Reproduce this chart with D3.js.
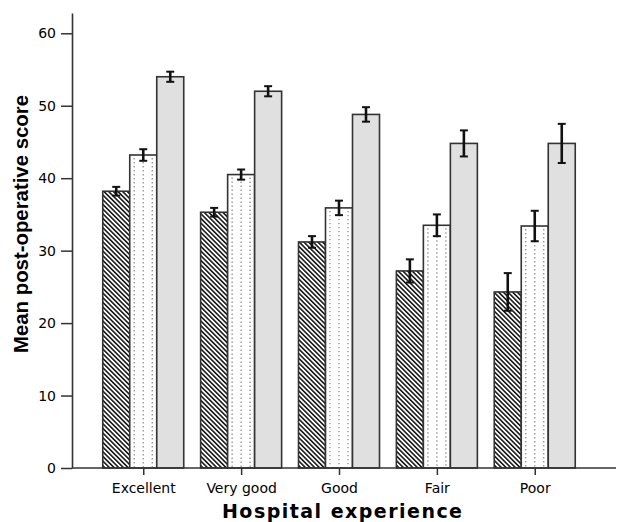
<!DOCTYPE html>
<html>
<head>
<meta charset="utf-8">
<script src="https://cdn.jsdelivr.net/npm/d3@7"></script>
<style>
  body { margin: 0; background: #fff; }
  svg { display: block; }
</style>
</head>
<body>
<svg width="624" height="522"></svg>
<script>
// values
const categories = ['Excellent', 'Very good', 'Good', 'Fair', 'Poor'];
const hatchedMeans = [38.2, 35.3, 31.2, 27.2, 24.3];
const hatchedErr = [0.6, 0.6, 0.8, 1.6, 2.6];
const dottedMeans = [43.2, 40.5, 35.9, 33.5, 33.4];
const dottedErr = [0.8, 0.7, 1.0, 1.5, 2.1];
const greyMeans = [54.0, 52.0, 48.8, 44.8, 44.8];
const greyErr = [0.7, 0.7, 1.0, 1.8, 2.7];
const yTicks = [0, 10, 20, 30, 40, 50, 60];

const series = [
    { key: 'hatched', means: hatchedMeans, err: hatchedErr },
    { key: 'dotted', means: dottedMeans, err: dottedErr },
    { key: 'grey', means: greyMeans, err: greyErr }
];

const svg = d3.select('svg');
const plotLeft = 72, plotRight = 606, plotBottom = 468, plotTop = 13;
const barW = 27;

const x = d3.scalePoint().domain(categories).range([plotLeft, plotRight]).padding(0.728);
const y = d3.scaleLinear().domain([0, 62.8]).range([plotBottom, plotTop]);

// diagonal hatch for the first series
const defs = svg.append('defs');
defs.append('pattern')
    .attr('id', 'hatch')
    .attr('patternUnits', 'userSpaceOnUse')
    .attr('width', 3.3)
    .attr('height', 10)
    .attr('patternTransform', 'rotate(-45)')
    .call((p) => {
        p.append('rect').attr('width', 3.3).attr('height', 10).attr('fill', '#fff');
        p.append('line').attr('x1', 0.8).attr('x2', 0.8).attr('y1', 0).attr('y2', 10)
            .attr('stroke', '#1a1a1a').attr('stroke-width', 1.6);
    });

// flatten to bar records
const bars = [];
categories.forEach((c, i) => {
    series.forEach((s, j) => {
        bars.push({ cat: c, key: s.key, idx: j, value: s.means[i], err: s.err[i] });
    });
});
const barX = (d) => x(d.cat) + (d.idx - 1.5) * barW;

const barG = svg.append('g');
barG.selectAll('rect')
    .data(bars)
    .enter()
    .append('rect')
    .attr('x', barX)
    .attr('y', (d) => y(d.value))
    .attr('width', barW)
    .attr('height', (d) => y(0) - y(d.value))
    .attr('fill', (d) => d.key === 'hatched' ? 'url(#hatch)' : d.key === 'grey' ? '#e0e0e0' : '#fff')
    .attr('stroke', '#333')
    .attr('stroke-width', 1.6);

// dotted columns inside the dotted bars
const dotCols = [4.5, 13.5, 22.5];
barG.selectAll('g.dots')
    .data(bars.filter((d) => d.key === 'dotted'))
    .enter()
    .append('g')
    .attr('class', 'dots')
    .selectAll('line')
    .data((d) => dotCols.map((o) => ({ d, o })))
    .enter()
    .append('line')
    .attr('x1', (e) => barX(e.d) + e.o)
    .attr('x2', (e) => barX(e.d) + e.o)
    .attr('y1', (e) => y(e.d.value) + 3)
    .attr('y2', y(0))
    .attr('stroke', '#9a9a9a')
    .attr('stroke-width', 1.4)
    .attr('stroke-dasharray', '1.4,2.6');

// error bars
const errG = svg.append('g').attr('stroke', '#111');
bars.forEach((d) => {
    const cx = barX(d) + barW / 2;
    errG.append('line').attr('x1', cx).attr('x2', cx)
        .attr('y1', y(d.value + d.err)).attr('y2', y(d.value - d.err))
        .attr('stroke-width', 2.6);
    [d.value + d.err, d.value - d.err].forEach((v) => {
        errG.append('line').attr('x1', cx - 4).attr('x2', cx + 4)
            .attr('y1', y(v)).attr('y2', y(v))
            .attr('stroke-width', 2);
    });
});

// y axis
const yAxis = svg.append('g')
    .attr('transform', `translate(${plotLeft},0)`)
    .call(d3.axisLeft(y).tickValues(yTicks).tickSize(11).tickPadding(5).tickSizeOuter(0));
yAxis.select('.domain').attr('stroke', '#333').attr('stroke-width', 1.6);
yAxis.selectAll('.tick line').attr('stroke', '#333').attr('stroke-width', 1.5);
yAxis.selectAll('.tick text')
    .attr('font-family', 'DejaVu Sans, sans-serif')
    .attr('font-size', 14)
    .attr('fill', '#000');

// x axis
const xAxis = svg.append('g')
    .attr('transform', `translate(0,${plotBottom})`)
    .call(d3.axisBottom(x).tickSize(7).tickPadding(8).tickSizeOuter(0));
xAxis.select('.domain').remove();
xAxis.append('line')
    .attr('x1', plotLeft).attr('x2', 616)
    .attr('stroke', '#333').attr('stroke-width', 1.6);
xAxis.selectAll('.tick line').attr('stroke', '#333').attr('stroke-width', 1.5);
xAxis.selectAll('.tick text')
    .attr('font-family', 'DejaVu Sans, sans-serif')
    .attr('font-size', 14)
    .attr('fill', '#000');

// titles
svg.append('text')
    .attr('x', 342)
    .attr('y', 518)
    .attr('text-anchor', 'middle')
    .attr('font-family', 'DejaVu Sans, sans-serif')
    .attr('font-weight', 'bold')
    .attr('font-size', 19)
    .attr('textLength', 240)
    .attr('lengthAdjust', 'spacing')
    .text('Hospital experience');

svg.append('text')
    .attr('transform', 'translate(27.5,224) rotate(-90)')
    .attr('text-anchor', 'middle')
    .attr('font-family', 'Liberation Sans, Arial, sans-serif')
    .attr('font-weight', 'bold')
    .attr('font-size', 20)
    .attr('textLength', 258)
    .attr('lengthAdjust', 'spacingAndGlyphs')
    .text('Mean post-operative score');
</script>
</body>
</html>
